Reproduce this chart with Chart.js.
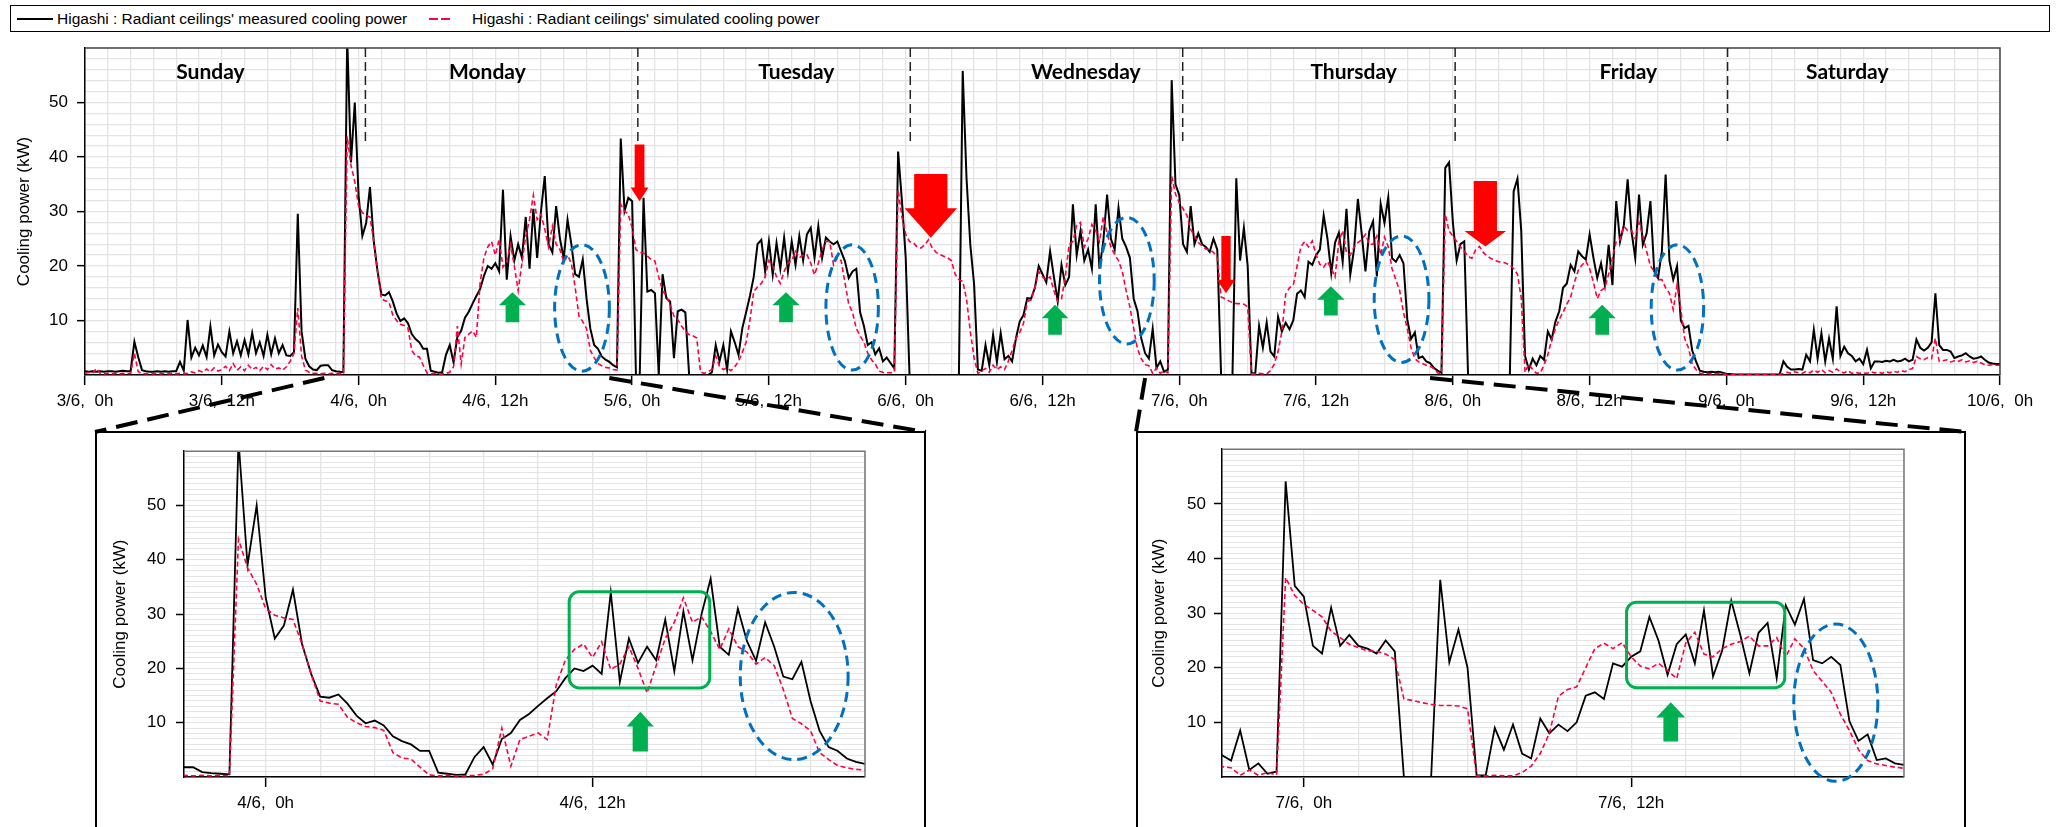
<!DOCTYPE html>
<html>
<head>
<meta charset="utf-8">
<script src="https://cdn.jsdelivr.net/npm/chart.js@4.4.1/dist/chart.umd.min.js"></script>
<style>
  html, body { margin: 0; padding: 0; background: #fff; }
  body { width: 2060px; height: 827px; position: relative; overflow: hidden; font-family: "Liberation Sans", Arial, sans-serif; }
  canvas { position: absolute; }
  #legend { position: absolute; left: 10px; top: 5px; width: 2040px; height: 27px; border: 1px solid #000; box-sizing: border-box; }
  .lg { position: absolute; top: 0; height: 25px; line-height: 25px; font-size: 15.5px; color: #000; white-space: nowrap; }
  .sw { position: absolute; top: 7px; }
  .box { position: absolute; border: 2px solid #000; box-sizing: border-box; }
</style>
</head>
<body>
<div id="legend">
  <svg class="sw" style="left:6px" width="36" height="12"><line x1="0" y1="6" x2="36" y2="6" stroke="#000" stroke-width="2"/></svg>
  <span class="lg" style="left:46px">Higashi : Radiant ceilings' measured cooling power</span>
  <svg class="sw" style="left:418px" width="22" height="12"><line x1="0" y1="6" x2="22" y2="6" stroke="#ff0040" stroke-width="2" stroke-dasharray="9,3"/></svg>
  <span class="lg" style="left:461px">Higashi : Radiant ceilings' simulated cooling power</span>
</div>
<div class="box" id="box1" style="left:95px;top:431px;width:831px;height:420px"></div>
<div class="box" id="box2" style="left:1136px;top:431px;width:830px;height:420px"></div>
<canvas id="main" width="2060" height="430" style="left:0;top:0"></canvas>
<canvas id="inset1" width="830" height="396" style="left:95px;top:431px"></canvas>
<canvas id="inset2" width="830" height="396" style="left:1136px;top:431px"></canvas>
<canvas id="links" width="2060" height="827" style="left:0;top:0;pointer-events:none"></canvas>

<script>
// one sample every 20 minutes, hours counted from 3/6 0h
const STEP_H = 1 / 3;

const measuredSun = [0.7,0.6,0.7,0.6,0.7,0.6,0.7,0.7,0.6,0.7,0.8,0.7,
  0.7,6.1,3.3,0.9,0.7,0.6,0.6,0.7,0.6,0.7,0.6,0.7,
  0.7,2.4,0.8,10.1,3.2,5.0,3.6,5.4,3.3,8.9,3.6,5.6,
  4.2,3.4,8.0,4.0,6.2,3.6,6.4,3.8,7.7,4.0,6.0,3.5,
  7.4,3.8,6.7,4.0,5.5,3.6,3.5,4.2,29.6,8.0,3.0,1.6,
  1.0,0.9,1.7,1.8,1.8,0.9,0.7,0.6,0.5,62,39.0,50.0];
const simulatedSun = [0.3,0.5,0.3,1.2,0.3,0.2,0.3,0.2,0.3,0.2,0.3,0.2,
  0.3,4.0,0.6,0.3,0.2,0.3,0.2,0.3,0.2,0.3,0.2,0.3,
  0.2,0.3,0.2,0.3,0.6,0.4,0.8,0.5,1.1,0.6,1.3,0.7,
  1.0,1.6,0.8,2.1,0.9,1.5,0.8,1.8,1.0,1.4,0.8,1.6,
  1.0,1.9,1.1,1.3,0.9,1.5,2.5,4.0,12.3,3.5,0.9,0.5,
  0.3,0.3,0.2,0.3,0.2,0.3,0.2,0.3,0.2,43.8,38.5,35.5];

const measuredMon = [33.0,25.5,27.9,34.5,24.5,19.0,14.8,14.6,15.2,13.5,11.3,9.9,
  10.4,9.5,7.5,6.6,6.0,4.8,4.8,0.8,0.6,0.4,0.5,3.7,
  5.5,2.3,7.0,8.1,10.5,11.6,13.1,14.5,15.8,18.2,20.0,19.5,
  20.5,19.0,34.0,17.5,25.5,21.0,24.0,21.5,29.0,19.5,30.5,21.5,
  30.0,36.5,24.0,22.5,31.0,25.0,21.4,28.5,24.0,18.5,18.0,21.2,
  14.0,8.5,5.5,4.8,3.4,2.8,2.4,1.8,1.4,43.4,30.1,32.5];
const simulatedMon = [31.0,29.8,29.3,29.0,24.5,19.0,14.0,13.6,13.4,11.0,10.0,9.3,
  9.1,8.6,4.5,3.5,3.3,1.8,0.4,0.2,0.3,0.2,0.2,0.3,
  0.5,1.5,9.0,2.0,6.9,7.5,8.1,6.9,17.0,21.5,23.5,24.5,
  22.0,24.9,19.8,20.8,24.0,20.0,15.5,20.5,25.5,28.5,33.0,28.5,
  29.5,26.8,23.5,27.3,24.0,23.0,20.8,22.0,20.5,16.1,10.8,9.8,
  8.5,4.5,3.2,2.1,1.7,1.4,1.3,1.0,0.9,31.3,30.1,29.4];

const measuredTue = [31.9,0,0,32.5,15.3,15.6,15.0,0,18.5,14.1,13.5,3.1,
  11.7,12.0,11.5,0,0,0,0,0,0,0.5,5.5,2.5,
  5.5,1.0,8.0,6.0,3.7,8.6,11.5,14.5,18.0,24.0,24.8,19.0,
  24.5,18.4,24.2,19.5,25.2,19.0,24.5,20.2,25.5,21.0,25.8,27.0,
  21.5,27.3,21.5,25.2,24.5,24.0,24.5,22.7,20.9,17.8,19.0,19.5,
  11.5,9.0,5.5,6.0,3.8,4.9,2.5,3.2,2.2,1.2,41.0,32.0];
const simulatedTue = [27.0,23.0,22.5,22.4,21.8,21.2,20.9,18.0,15.5,14.5,12.9,10.8,
  10.2,9.0,8.0,7.4,7.2,6.8,0.5,0.3,0.6,1.0,3.5,1.5,
  1.0,1.3,0.8,1.5,2.5,4.2,6.0,10.0,15.3,16.2,16.8,18.0,
  21.0,20.0,18.0,16.8,19.0,20.5,21.0,22.7,21.5,22.0,22.1,20.5,
  18.4,20.5,23.0,24.5,24.5,20.2,21.5,21.0,17.0,13.0,11.5,8.5,
  7.2,6.0,4.0,2.8,2.0,0.7,0.5,0.4,0.4,0.5,34.0,29.0];

const measuredWed = [21.5,0,0,0,0,0,0,0,0,0,0,0,
  0,0,0,55.8,36.2,23.9,16.6,1.0,0.8,5.5,1.8,7.4,
  2.4,7.7,2.9,3.5,2.5,6.7,9.8,11.0,14.1,14.0,16.0,20.0,
  18.5,17.0,22.7,18.0,13.5,20.2,16.5,18.0,31.3,22.0,26.4,21.0,
  23.0,19.5,31.3,19.5,24.5,33.1,25.0,23.0,30.7,25.0,23.5,21.5,
  14.0,11.7,6.7,4.0,3.0,8.5,1.3,2.5,0.6,1.0,54.1,35.0];
const simulatedWed = [25.8,24.5,24.3,23.5,23.3,23.9,24.8,23.3,22.5,22.1,21.8,21.5,
  21.0,18.5,17.5,17.2,14.0,8.0,3.1,0.3,0.8,1.2,0.5,1.8,
  1.0,1.5,1.0,2.5,4.5,6.7,7.8,9.5,13.5,13.8,16.0,19.0,
  18.0,17.5,18.0,15.5,13.5,14.0,18.0,23.9,24.5,27.5,28.0,23.5,
  25.0,27.6,26.5,24.5,29.0,26.0,23.5,22.1,21.0,19.0,15.5,12.5,
  8.5,4.8,3.0,1.9,1.7,0.3,1.3,0.3,0.8,0.4,36.5,33.2];

const measuredThu = [33.0,24.0,22.6,31.0,24.0,26.0,24.0,23.5,22.6,25.0,23.0,0,
  0,0,0,36.1,21.0,27.0,20.0,0.3,0.3,9.0,5.0,9.6,
  4.3,3.4,10.7,8.0,9.6,8.4,10.0,14.9,15.5,14.3,20.8,20.2,
  22.0,23.0,29.3,25.0,18.7,24.3,26.1,20.8,30.5,18.4,23.1,32.3,
  26.0,19.0,26.4,28.2,18.1,31.4,27.9,32.6,21.4,20.8,22.0,20.5,
  10.2,6.6,7.8,3.1,3.4,2.5,2.2,1.3,0.8,0.4,38.0,39.0];
const simulatedThu = [31.6,30.5,29.3,26.7,25.5,24.3,23.7,23.1,23.0,22.5,21.5,14.3,
  14.0,13.6,13.3,13.1,13.1,13.0,12.5,0.2,0.2,0.3,0.2,0.2,
  0.8,2.0,4.3,8.0,14.8,16.0,16.5,20.0,23.5,24.5,23.5,24.6,
  22.0,20.3,19.8,20.8,19.5,18.0,24.5,26.5,22.5,22.0,23.5,24.3,
  24.8,25.8,24.0,24.0,25.5,22.0,25.3,23.5,19.5,17.5,15.5,11.5,
  8.5,5.0,3.0,2.4,2.1,1.8,1.6,1.2,0.4,0.2,29.5,26.4];

const measuredFri = [28.0,21.0,24.0,24.5,0,0,0,0,0,0,0,0,
  0,0,0,0,33.7,36.0,26.4,3.5,1.0,3.0,1.8,3.5,
  2.8,8.0,6.5,9.8,11.7,16.0,16.8,20.2,19.0,22.7,21.8,21.2,
  25.8,21.5,17.8,20.5,16.5,23.9,16.5,31.9,24.5,27.5,35.9,26.4,
  21.5,33.1,23.9,26.0,31.9,19.0,17.8,22.7,36.8,21.0,17.5,20.0,
  10.0,8.6,9.0,4.5,2.5,0.8,0.6,0.5,0.6,0.5,0.6,0.4];
const simulatedFri = [25.5,24.5,23.5,22.7,21.8,21.4,23.0,23.6,22.5,21.8,21.4,21.0,
  20.8,20.7,20.5,20.2,19.5,18.5,14.1,0.5,2.0,1.0,0.3,0.4,
  1.8,3.7,6.5,8.5,10.2,11.5,13.0,14.3,17.0,19.2,20.2,20.9,
  19.5,17.0,14.0,15.5,16.0,18.5,21.5,24.5,24.8,27.3,26.5,26.5,
  25.0,28.0,25.5,22.7,20.0,19.0,17.5,17.5,16.0,15.0,12.0,16.5,
  12.0,6.7,5.0,2.0,1.0,0.3,0.2,0.3,0.2,0.2,0.3,0.2];

const measuredSat = [0.2,0.2,0.1,0.1,0.1,0.1,0.1,0.1,0.1,0.1,0.1,0.1,
  0.1,0.1,0.1,2.5,1.5,1.0,1.0,1.1,1.0,3.7,2.5,8.3,
  3.0,7.7,2.5,6.7,3.0,12.6,3.5,5.2,4.0,3.5,2.5,3.0,
  2.0,4.6,1.2,2.5,2.5,2.4,2.6,2.5,2.8,2.5,2.6,3.0,
  2.5,2.8,6.5,5.0,4.5,5.0,6.0,15.0,5.5,4.6,4.6,4.3,
  3.1,3.4,3.6,4.0,3.4,3.0,3.1,3.4,2.8,2.3,2.1,2.0,
  2.0];
const simulatedSat = [0.1,0.1,0.1,0.1,0.1,0.1,0.1,0.1,0.1,0.1,0.1,0.1,
  0.1,0.1,0.1,0.3,0.5,0.3,0.6,0.4,0.3,0.7,0.4,0.9,
  0.5,1.0,0.4,0.8,0.5,1.1,0.6,0.4,0.8,0.3,0.5,0.3,
  0.4,0.3,0.6,0.4,0.5,0.3,0.6,0.4,0.7,0.5,0.8,0.6,
  1.0,1.2,3.4,3.0,2.8,3.2,3.0,6.7,2.5,2.6,2.8,2.4,
  2.6,2.5,2.8,2.4,2.6,2.3,2.5,2.2,1.9,1.8,1.9,1.8,
  1.8];

const dayNames = ['Sunday', 'Monday', 'Tuesday', 'Wednesday', 'Thursday', 'Friday', 'Saturday'];
const dayNameHours = [11.0, 35.3, 62.4, 87.8, 111.3, 135.4, 154.6];
const daySeparatorHours = [24.6, 48.5, 72.4, 96.3, 120.2, 144.1];

const RED = '#ff0040';
const GRID = '#e4e4e4';
const FONT = '"Liberation Sans", Arial, sans-serif';

function series(days) {
  return days.flat().map((v, i) => ({ x: Math.round(i * STEP_H * 1000) / 1000, y: v }));
}
const measuredDays = [measuredSun, measuredMon, measuredTue, measuredWed, measuredThu, measuredFri, measuredSat];
const simulatedDays = [simulatedSun, simulatedMon, simulatedTue, simulatedWed, simulatedThu, simulatedFri, simulatedSat];

function hourLabel(v) {
  return (3 + Math.floor(v / 24)) + '/6,  ' + (v % 24) + 'h';
}

// annotation marks, in data units (hours, kW)
const mainMarks = {
  frame: '#444',
  separators: daySeparatorHours, sepFrom: 60, sepTo: 42.5,
  days: { names: dayNames, hours: dayNameHours, y: 55.5 },
  redArrows: [
    { x: 48.65, sh: 0.43, hh: 0.78, from: 42.3, neck: 34.4, tip: 31.9 },
    { x: 74.2, sh: 1.46, hh: 2.3, from: 36.9, neck: 30.6, tip: 25.2 },
    { x: 100.1, sh: 0.41, hh: 0.8, from: 25.5, neck: 17.5, tip: 15.0 },
    { x: 122.85, sh: 1.02, hh: 1.83, from: 35.6, neck: 26.4, tip: 23.6 }
  ],
  greenArrows: [
    { x: 37.5, sh: 0.6, hh: 1.2, from: 9.7, neck: 12.8, tip: 15.2 },
    { x: 61.5, sh: 0.6, hh: 1.2, from: 9.7, neck: 12.8, tip: 15.2 },
    { x: 85.1, sh: 0.6, hh: 1.17, from: 7.4, neck: 10.4, tip: 12.9 },
    { x: 109.3, sh: 0.6, hh: 1.2, from: 10.9, neck: 13.8, tip: 16.3 },
    { x: 133.1, sh: 0.6, hh: 1.2, from: 7.4, neck: 10.4, tip: 12.9 }
  ],
  ellipses: [
    { x: 43.6, y: 12.3, rx: 2.4, ry: 11.6 },
    { x: 67.3, y: 12.4, rx: 2.3, ry: 11.5 },
    { x: 91.4, y: 17.3, rx: 2.4, ry: 11.6 },
    { x: 115.5, y: 13.9, rx: 2.4, ry: 11.6 },
    { x: 139.7, y: 12.4, rx: 2.3, ry: 11.5 }
  ],
  rects: []
};
const inset1Marks = {
  frame: '#777',
  greenArrows: [{ x: 37.75, sh: 0.28, hh: 0.5, from: 4.7, neck: 9.3, tip: 12.0 }],
  ellipses: [{ x: 43.4, y: 18.6, rx: 1.98, ry: 15.4 }],
  rects: [{ x0: 35.14, x1: 40.3, y0: 16.4, y1: 34.1 }]
};
const inset2Marks = {
  frame: '#777',
  greenArrows: [{ x: 109.45, sh: 0.27, hh: 0.53, from: 6.5, neck: 10.9, tip: 13.7 }],
  ellipses: [{ x: 115.5, y: 13.6, rx: 1.54, ry: 14.4 }],
  rects: [{ x0: 107.83, x1: 113.63, y0: 16.35, y1: 32.0 }]
};

function marksPlugin(m) {
  return {
    id: 'marks',
    afterDatasetsDraw(chart) {
      const { ctx, chartArea: a } = chart;
      const xs = chart.scales.x, ys = chart.scales.y;
      const px = v => xs.getPixelForValue(v), py = v => ys.getPixelForValue(v);
      ctx.save();
      // top and right frame
      ctx.strokeStyle = m.frame; ctx.lineWidth = 1.5;
      ctx.beginPath(); ctx.moveTo(a.left, a.top); ctx.lineTo(a.right, a.top); ctx.lineTo(a.right, a.bottom); ctx.stroke();

      if (m.separators) {
        ctx.strokeStyle = '#222'; ctx.lineWidth = 1.5; ctx.setLineDash([9, 5]);
        m.separators.forEach(h => {
          ctx.beginPath(); ctx.moveTo(px(h), py(m.sepFrom)); ctx.lineTo(px(h), py(m.sepTo)); ctx.stroke();
        });
        ctx.setLineDash([]);
      }
      if (m.days) {
        ctx.fillStyle = '#000'; ctx.font = 'bold 21px Lato, "DejaVu Sans", sans-serif';
        ctx.textAlign = 'center'; ctx.textBaseline = 'middle';
        m.days.names.forEach((n, i) => ctx.fillText(n, px(m.days.hours[i]), py(m.days.y)));
      }
      const arrow = (r, color) => {
        ctx.fillStyle = color;
        ctx.beginPath();
        ctx.moveTo(px(r.x - r.sh), py(r.from));
        ctx.lineTo(px(r.x + r.sh), py(r.from));
        ctx.lineTo(px(r.x + r.sh), py(r.neck));
        ctx.lineTo(px(r.x + r.hh), py(r.neck));
        ctx.lineTo(px(r.x), py(r.tip));
        ctx.lineTo(px(r.x - r.hh), py(r.neck));
        ctx.lineTo(px(r.x - r.sh), py(r.neck));
        ctx.closePath(); ctx.fill();
      };
      (m.redArrows || []).forEach(r => arrow(r, '#ff0000'));
      (m.greenArrows || []).forEach(r => arrow(r, '#00b050'));

      ctx.strokeStyle = '#0070c0'; ctx.lineWidth = 3; ctx.setLineDash([10, 6]);
      (m.ellipses || []).forEach(e => {
        const cx = px(e.x), cy = py(e.y);
        ctx.beginPath();
        ctx.ellipse(cx, cy, Math.abs(px(e.x + e.rx) - cx), Math.abs(py(e.y + e.ry) - cy), 0, 0, Math.PI * 2);
        ctx.stroke();
      });
      ctx.setLineDash([]);

      ctx.strokeStyle = '#00b050'; ctx.lineWidth = 3;
      (m.rects || []).forEach(r => {
        const x0 = px(r.x0), x1 = px(r.x1), y0 = py(r.y1), y1 = py(r.y0), rad = 10;
        ctx.beginPath();
        ctx.roundRect(x0, y0, x1 - x0, y1 - y0, rad);
        ctx.stroke();
      });
      ctx.restore();
    }
  };
}

function buildChart(id, cfg) {
  return new Chart(document.getElementById(id), {
    type: 'line',
    data: {
      datasets: [
        { label: "Higashi : Radiant ceilings' simulated cooling power", data: series(simulatedDays),
          borderColor: RED, borderWidth: 1.6, borderDash: [5, 3], pointRadius: 0, tension: 0, order: 0 },
        { label: "Higashi : Radiant ceilings' measured cooling power", data: series(measuredDays),
          borderColor: '#000', borderWidth: cfg.blackW, pointRadius: 0, tension: 0, order: 1 }
      ]
    },
    options: {
      responsive: false, animation: false, events: [], parsing: false, normalized: true,
      devicePixelRatio: 1,
      layout: { padding: { left: 0, top: cfg.top, right: cfg.right, bottom: 0 } },
      plugins: { legend: { display: false }, tooltip: { enabled: false } },
      scales: {
        x: {
          type: 'linear', min: cfg.xMin, max: cfg.xMax,
          afterFit: s => { s.height = cfg.xHeight; },
          border: { color: '#000', width: 1.5 },
          grid: { color: GRID, lineWidth: 1.3, tickLength: 10, tickWidth: 1.5,
            tickColor: c => (c.tick && c.tick.value % 12 === 0) ? '#000' : 'rgba(0,0,0,0)' },
          ticks: { stepSize: 2, autoSkip: false, maxRotation: 0, padding: 6, color: '#000',
            font: { family: FONT, size: 17 },
            callback: v => (v % 12 === 0 ? hourLabel(v) : '') }
        },
        y: {
          min: 0, max: 60,
          afterFit: s => { s.width = cfg.yWidth; },
          border: { color: '#000', width: 1.5 },
          grid: { color: GRID, lineWidth: cfg.yStep === 1 ? 1 : 1.3, tickLength: 8, tickWidth: 1.5,
            tickColor: c => (c.tick && c.tick.value % 10 === 0 && c.tick.value > 0 && c.tick.value < 60) ? '#000' : 'rgba(0,0,0,0)' },
          ticks: { stepSize: cfg.yStep, autoSkip: false, padding: cfg.yPad, color: '#000',
            font: { family: FONT, size: 17 },
            callback: v => (v % 10 === 0 && v > 0 && v < 60 ? v : '') },
          title: { display: true, text: 'Cooling power (kW)', color: '#000',
            font: { family: FONT, size: 17 }, padding: { top: cfg.titlePad, bottom: 0 } }
        }
      }
    },
    plugins: [marksPlugin(cfg.marks)]
  });
}

const mainChart = buildChart('main', {
  xMin: 0, xMax: 168, top: 48, right: 60, xHeight: 55, yWidth: 85, yStep: 2, yPad: 9,
  titlePad: 14, blackW: 2, marks: mainMarks
});
buildChart('inset1', {
  xMin: 21, xMax: 46, top: 8, right: 60, xHeight: 50, yWidth: 89, yStep: 1, yPad: 10,
  titlePad: 15, blackW: 1.8, marks: inset1Marks
});
buildChart('inset2', {
  xMin: 93, xMax: 118, top: 8, right: 62, xHeight: 50, yWidth: 86, yStep: 1, yPad: 8,
  titlePad: 13, blackW: 1.8, marks: inset2Marks
});

// dashed zoom connectors from the main time axis to the two inset boxes
(function drawLinks() {
  const ctx = document.getElementById('links').getContext('2d');
  const xs = mainChart.scales.x, yBase = mainChart.chartArea.bottom + 3;
  const b1 = document.getElementById('box1'), b2 = document.getElementById('box2');
  const corners = [
    [21, b1.offsetLeft, b1.offsetTop + 1], [46, b1.offsetLeft + b1.offsetWidth, b1.offsetTop + 1],
    [93, b2.offsetLeft, b2.offsetTop + 1], [118, b2.offsetLeft + b2.offsetWidth, b2.offsetTop + 1]
  ];
  ctx.strokeStyle = '#000'; ctx.lineWidth = 4; ctx.setLineDash([22, 10]);
  corners.forEach(([h, bx, by]) => {
    ctx.beginPath(); ctx.moveTo(xs.getPixelForValue(h), yBase); ctx.lineTo(bx, by); ctx.stroke();
  });
})();
</script>
</body>
</html>
